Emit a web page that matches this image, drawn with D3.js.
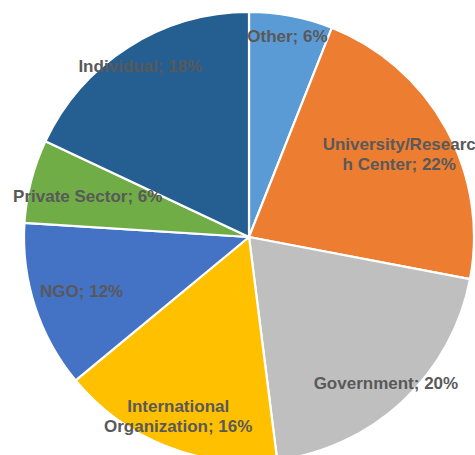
<!DOCTYPE html>
<html>
<head>
<meta charset="utf-8">
<script src="https://cdn.jsdelivr.net/npm/d3@7"></script>
<style>
  html, body { margin: 0; padding: 0; background: #fff; overflow: hidden; }
  svg { display: block; }
</style>
</head>
<body>
<svg id="chart" width="475" height="455"></svg>
<script>
// ---- data ----
const categories = ["Other", "University/Research Center", "Government", "International Organization", "NGO", "Private Sector", "Individual"];
const values = [6, 22, 20, 16, 12, 6, 18];
// label lines as rendered (wrapped like the original)
const labelLines = [
  ["Other; 6%"],
  ["University/Researc", "h Center; 22%"],
  ["Government; 20%"],
  ["International", "Organization; 16%"],
  ["NGO; 12%"],
  ["Private Sector; 6%"],
  ["Individual; 18%"]
];
const colors = ["#5B9BD5", "#ED7D31", "#BFBFBF", "#FFC000", "#4472C4", "#70AD47", "#255E91"];

// ---- layout ----
const width = 475, height = 455;
const cx = 249, cy = 237, R = 225;
const labelRadiusFactor = [0.911, 0.762, 0.889, 0.855, 0.782, 0.74, 0.902];

const svg = d3.select("#chart");
const g = svg.append("g").attr("transform", `translate(${cx},${cy})`);

const pie = d3.pie().sort(null).value(d => d.value);
const data = categories.map((c, i) => ({ name: c, value: values[i], i }));
const arcs = pie(data);
const arc = d3.arc().innerRadius(0).outerRadius(R);

const color = d3.scaleOrdinal().domain(categories).range(colors);

g.selectAll("path.slice")
  .data(arcs)
  .join("path")
  .attr("class", "slice")
  .attr("d", arc)
  .attr("fill", d => color(d.data.name))
  .attr("stroke", "#ffffff")
  .attr("stroke-width", 2.2)
  .attr("stroke-linejoin", "round");

const lineH = 20;
const labels = g.selectAll("text.lbl")
  .data(arcs)
  .join("text")
  .attr("class", "lbl")
  .attr("text-anchor", "middle")
  .attr("font-family", "Liberation Sans, Arial, sans-serif")
  .attr("font-weight", "bold")
  .attr("font-size", 17)
  .attr("fill", "#595959")
  .each(function(d) {
    const r = R * labelRadiusFactor[d.data.i];
    const la = d3.arc().innerRadius(r).outerRadius(r);
    const [x, y] = la.centroid(d);
    const lines = labelLines[d.data.i];
    const n = lines.length;
    const sel = d3.select(this);
    lines.forEach((t, k) => {
      sel.append("tspan")
        .attr("x", x)
        .attr("y", y + (k - (n - 1) / 2) * lineH + 6)
        .text(t);
    });
  });
</script>
</body>
</html>
